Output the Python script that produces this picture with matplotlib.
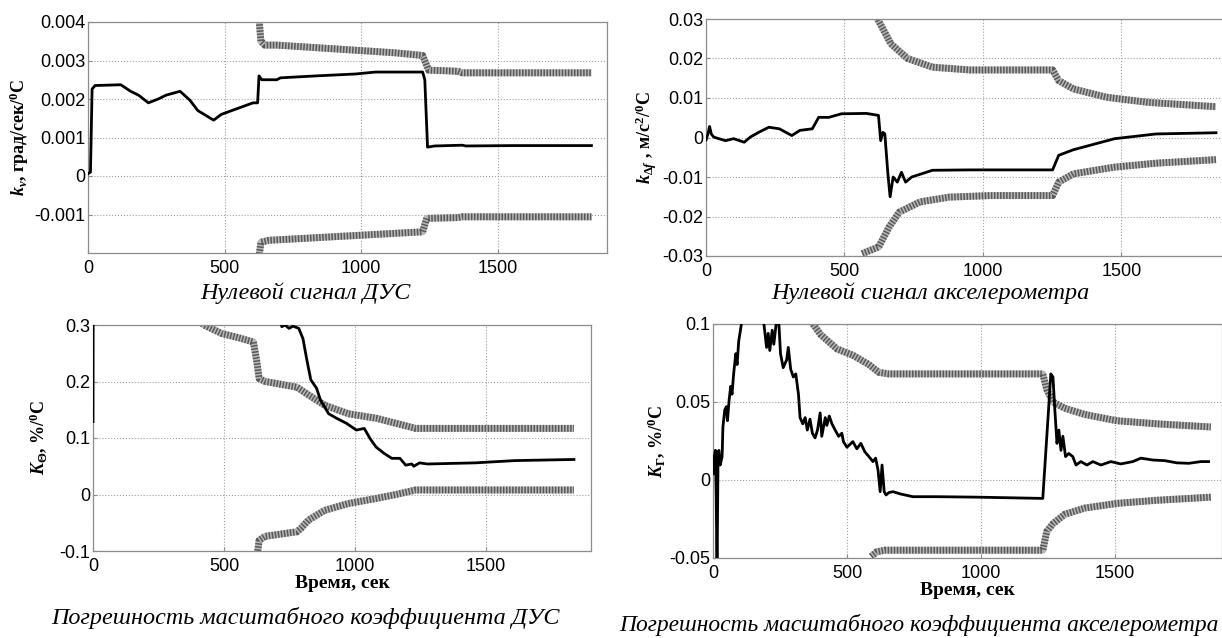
import matplotlib
matplotlib.use('Agg')
import matplotlib.pyplot as plt

plt.rcParams['axes.unicode_minus'] = False
plt.rcParams['mathtext.fontset'] = 'custom'
plt.rcParams['mathtext.it'] = 'Liberation Serif:bold:italic'
plt.rcParams['mathtext.rm'] = 'Liberation Serif:bold'
plt.rcParams['mathtext.bf'] = 'Liberation Serif:bold'

# --- Нулевой сигнал ДУС ---
dus0_t = [0, 9, 15, 26, 120, 156, 185, 221, 257, 286, 337, 373, 402, 460, 488, 546, 604, 621,
          626, 636, 691, 705, 835, 980, 1052, 1124, 1225, 1233, 1243, 1269, 1370, 1384, 1558, 1843]
dus0_k = [0.00006, 0.0001, 0.00226, 0.00235, 0.00237, 0.0022, 0.0021, 0.0019, 0.0020, 0.0021,
          0.0022, 0.00197, 0.0017, 0.00145, 0.0016, 0.00175, 0.0019, 0.0019,
          0.0026, 0.0025, 0.0025, 0.00255, 0.0026, 0.00265, 0.0027, 0.0027, 0.0027, 0.0025,
          0.00075, 0.00078, 0.0008, 0.00078, 0.00079, 0.00079]
dus0_up_t = [626, 633, 647, 691, 1124, 1225, 1247, 1355, 1370, 1843]
dus0_up = [0.0041, 0.0035, 0.0034, 0.0034, 0.0032, 0.00313, 0.00275, 0.00272, 0.00268, 0.00268]
dus0_lo_t = [626, 633, 662, 1225, 1240, 1355, 1370, 1843]
dus0_lo = [-0.0021, -0.00172, -0.00167, -0.00145, -0.0011, -0.00108, -0.00106, -0.00106]

# --- Нулевой сигнал акселерометра ---
acc0_t = [0, 7, 13, 19, 28, 70, 100, 138, 160, 190, 227, 265, 310, 339, 384, 407, 444, 489, 579,
          623, 631, 639, 646, 657, 665, 676, 691, 706, 721, 743, 818, 953, 1252, 1274, 1327,
          1476, 1626, 1842]
acc0_k = [-0.0006, 0.0009, 0.0028, 0.0009, 0.0001, -0.0008, -0.0003, -0.0012, 0.0001, 0.0013,
          0.0026, 0.0022, 0.0005, 0.0018, 0.0022, 0.0051, 0.0051, 0.006, 0.0061,
          0.0056, -0.0008, 0.0013, 0.0009, -0.0092, -0.015, -0.01, -0.0113, -0.0088, -0.0113,
          -0.01, -0.0083, -0.0082, -0.0082, -0.0045, -0.0031, -0.0003, 0.0009, 0.0012]
acc0_up_t = [616, 668, 728, 818, 953, 1252, 1274, 1327, 1446, 1596, 1842]
acc0_up = [0.0305, 0.0237, 0.02, 0.0178, 0.0171, 0.0171, 0.0144, 0.0123, 0.0102, 0.0089, 0.0078]
acc0_lo_t = [564, 624, 661, 698, 773, 878, 1027, 1252, 1274, 1327, 1476, 1626, 1842]
acc0_lo = [-0.0294, -0.0277, -0.0227, -0.0189, -0.0163, -0.0151, -0.0147, -0.0147, -0.0113,
           -0.0092, -0.0075, -0.0065, -0.0056]

# --- Погрешность масштабного коэффициента ДУС ---
dusk_t = [0, 2, 700, 720, 733, 748, 763, 785, 801, 816, 831, 853, 868, 899, 929, 967, 1005,
          1035, 1057, 1080, 1110, 1140, 1171, 1193, 1216, 1224, 1246, 1276, 1458, 1609, 1835]
dusk_k = [0.129, 0.8, 0.8, 0.297, 0.3, 0.294, 0.298, 0.294, 0.276, 0.238, 0.203, 0.188, 0.167,
          0.143, 0.135, 0.126, 0.114, 0.117, 0.099, 0.084, 0.073, 0.064, 0.064, 0.052, 0.054,
          0.050, 0.056, 0.054, 0.056, 0.060, 0.062]
dusk_up_t = [400, 423, 491, 551, 612, 624, 634, 657, 778, 823, 884, 974, 1080, 1156, 1231, 1835]
dusk_up = [0.31, 0.3, 0.285, 0.278, 0.27, 0.238, 0.205, 0.2, 0.19, 0.176, 0.158, 0.143, 0.135,
           0.126, 0.117, 0.117]
dusk_lo_t = [627, 634, 657, 778, 793, 823, 884, 974, 1080, 1156, 1231, 1835]
dusk_lo = [-0.105, -0.081, -0.074, -0.066, -0.06, -0.045, -0.028, -0.016, -0.007, 0.0, 0.008, 0.008]

# --- Погрешность масштабного коэффициента акселерометра ---
acck_t = [0, 5, 9, 12, 15, 19, 22, 27, 34, 37, 44, 50, 54, 60, 66, 71, 77, 85, 90, 96, 106, 112,
          175, 190, 200, 206, 212, 221, 227, 237, 246, 252, 262, 275, 281, 290, 300, 309, 319,
          325, 335, 344, 352, 362, 371, 381, 390, 400, 406, 419, 425, 434, 444, 456, 469, 481,
          487, 500, 522, 537, 552, 567, 582, 597, 607, 616, 624, 631, 639, 646, 657, 672, 701,
          746, 836, 985, 1231, 1254, 1261, 1269, 1276, 1284, 1291, 1299, 1306, 1316, 1328,
          1343, 1355, 1373, 1396, 1418, 1448, 1485, 1522, 1567, 1597, 1642, 1687, 1731, 1776,
          1821, 1850]
acck_k = [0.004, 0.015, 0.019, -0.011, -0.06, 0.017, 0.019, 0.0096, 0.015, 0.034, 0.045, 0.047,
          0.038, 0.051, 0.06, 0.055, 0.068, 0.081, 0.074, 0.089, 0.1, 0.104,
          0.105, 0.1, 0.085, 0.094, 0.083, 0.096, 0.087, 0.102, 0.1, 0.081, 0.072, 0.077, 0.085,
          0.071, 0.066, 0.068, 0.055, 0.04, 0.036, 0.04, 0.032, 0.039, 0.03, 0.027, 0.032,
          0.043, 0.028, 0.04, 0.035, 0.041, 0.036, 0.032, 0.028, 0.030, 0.0245, 0.021, 0.0246,
          0.020, 0.0235, 0.018, 0.015, 0.0118, 0.014, 0.0064, -0.0075, 0.0096, -0.0075,
          -0.0096, -0.008, -0.0075, -0.009, -0.0107, -0.0107, -0.011, -0.0118, 0.049, 0.068,
          0.066, 0.045, 0.0235, 0.032, 0.019, 0.028, 0.015, 0.017, 0.015, 0.0096, 0.0118,
          0.0096, 0.0118, 0.0096, 0.0118, 0.0103, 0.0118, 0.014, 0.0128, 0.0124, 0.011,
          0.0107, 0.0118, 0.0118]
acck_up_t = [360, 373, 403, 463, 522, 582, 619, 657, 1231, 1246, 1269, 1313, 1388, 1507, 1657, 1858]
acck_up = [0.103, 0.1, 0.093, 0.084, 0.08, 0.074, 0.069, 0.068, 0.068, 0.058, 0.050, 0.046,
           0.042, 0.038, 0.036, 0.034]
acck_lo_t = [590, 612, 642, 1231, 1246, 1269, 1313, 1388, 1507, 1657, 1858]
acck_lo = [-0.049, -0.046, -0.045, -0.045, -0.033, -0.028, -0.022, -0.018, -0.015, -0.013, -0.011]

x_ticks = [0, 500, 1000, 1500]
x_ticklabels = ['0', '500', '1000', '1500']
tl_yticks = [-0.001, 0, 0.001, 0.002, 0.003, 0.004]
tl_yticklabels = ['-0.001', '0', '0.001', '0.002', '0.003', '0.004']
tr_yticks = [-0.03, -0.02, -0.01, 0, 0.01, 0.02, 0.03]
tr_yticklabels = ['-0.03', '-0.02', '-0.01', '0', '0.01', '0.02', '0.03']
bl_yticks = [-0.1, 0, 0.1, 0.2, 0.3]
bl_yticklabels = ['-0.1', '0', '0.1', '0.2', '0.3']
br_yticks = [-0.05, 0, 0.05, 0.1]
br_yticklabels = ['-0.05', '0', '0.05', '0.1']

W, H = 1222, 638
fig = plt.figure(figsize=(W / 100, H / 100), dpi=100)


def px_axes(left, top, right, bottom):
    return fig.add_axes([left / W, 1 - bottom / H, (right - left) / W, (bottom - top) / H])


def band(ax, t, v):
    # thick grey dotted band (confidence bound)
    ax.plot(t, v, color='#b8b8b8', lw=5, solid_capstyle='butt', zorder=2)
    ax.plot(t, v, color='#595959', lw=5, dashes=(0.22, 0.22), zorder=2.1)


def style(ax, ylim, yticks, yticklabels, ylabel, label_x):
    ax.set_xlim(0, 1900)
    ax.set_ylim(*ylim)
    ax.set_xticks(x_ticks)
    ax.set_xticklabels(x_ticklabels)
    ax.set_yticks(yticks)
    ax.set_yticklabels(yticklabels)
    ax.grid(True, linestyle=':', color='#a0a0a0', lw=0.8)
    ax.set_axisbelow(True)
    for s in ax.spines.values():
        s.set_color('#8c8c8c')
        s.set_linewidth(0.9)
    ax.tick_params(direction='in', length=3, color='#8c8c8c', labelsize=13)
    ax.tick_params(axis='x', pad=5)
    ax.tick_params(axis='y', pad=2)
    for lab in ax.get_xticklabels() + ax.get_yticklabels():
        lab.set_fontfamily('Liberation Sans')
    ax.set_ylabel(ylabel, fontfamily='Liberation Serif', fontweight='bold', fontsize=13)
    bb = ax.get_position()
    ax.yaxis.set_label_coords((label_x / W - bb.x0) / bb.width, 0.5)


# top left
ax1 = px_axes(88, 22, 607, 253)
band(ax1, dus0_up_t, dus0_up)
band(ax1, dus0_lo_t, dus0_lo)
ax1.plot(dus0_t, dus0_k, color='black', lw=2, zorder=3)
style(ax1, (-0.002, 0.004), tl_yticks, tl_yticklabels, r'$k_{\nu}$, град/сек/$^0$C', 31)

# top right
ax2 = px_axes(706, 19, 1232, 256)
band(ax2, acc0_up_t, acc0_up)
band(ax2, acc0_lo_t, acc0_lo)
ax2.plot(acc0_t, acc0_k, color='black', lw=2, zorder=3)
style(ax2, (-0.03, 0.03), tr_yticks, tr_yticklabels, r'$k_{\Delta f}$ , м/с$^2$/$^0$C', 659)

# bottom left
ax3 = px_axes(93, 325, 591, 551)
band(ax3, dusk_up_t, dusk_up)
band(ax3, dusk_lo_t, dusk_lo)
ax3.plot(dusk_t, dusk_k, color='black', lw=2, zorder=3)
style(ax3, (-0.1, 0.3), bl_yticks, bl_yticklabels, r'$K_{\Theta}$, %/$^0$C', 49)
ax3.set_xlabel('Время, сек', fontfamily='Liberation Serif', fontweight='bold', fontsize=14,
               labelpad=0)

# bottom right
ax4 = px_axes(713, 324, 1222, 558)
band(ax4, acck_up_t, acck_up)
band(ax4, acck_lo_t, acck_lo)
ax4.plot(acck_t, acck_k, color='black', lw=2, zorder=3)
style(ax4, (-0.05, 0.1), br_yticks, br_yticklabels, r'$K_{\Gamma}$, %/$^0$C', 667)
ax4.set_xlabel('Время, сек', fontfamily='Liberation Serif', fontweight='bold', fontsize=14,
               labelpad=0)

cap = dict(fontfamily='Liberation Serif', fontstyle='italic', fontsize=17.4, va='center')
fig.text(305 / W, 1 - 293 / H, 'Нулевой сигнал ДУС', ha='center', **cap)
fig.text(930 / W, 1 - 293 / H, 'Нулевой сигнал акселерометра', ha='center', **cap)
fig.text(305 / W, 1 - 618 / H, 'Погрешность масштабного коэффициента ДУС', ha='center', **cap)
cap['fontsize'] = 16.9
fig.text(1219 / W, 1 - 625 / H, 'Погрешность масштабного коэффициента акселерометра',
         ha='right', **cap)

fig.savefig('out.png', dpi=100)
